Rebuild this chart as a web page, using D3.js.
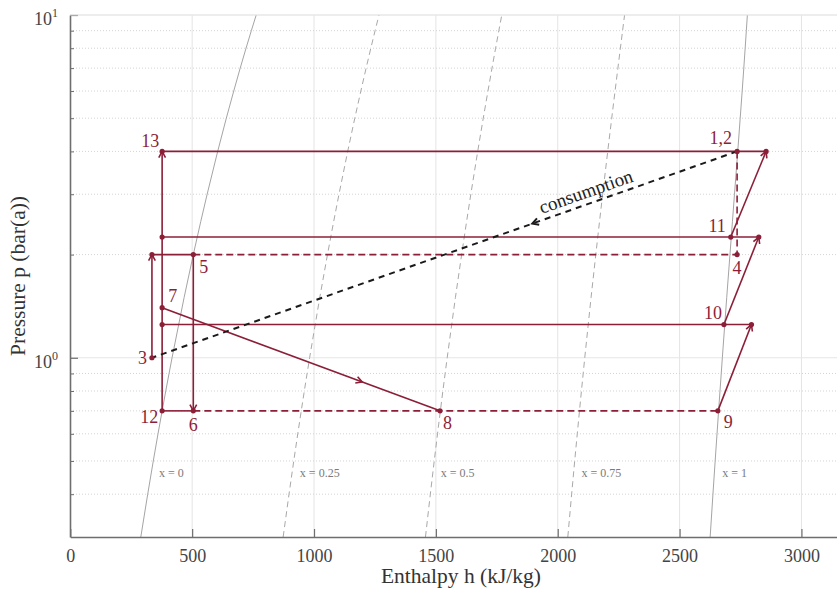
<!DOCTYPE html>
<html>
<head>
<meta charset="utf-8">
<script src="https://cdn.jsdelivr.net/npm/d3@7"></script>
<style>
  body { margin: 0; background: #fff; }
  svg text { font-family: "Liberation Serif", "DejaVu Serif", serif; }
</style>
</head>
<body>
<div id="chart"></div>
<script>
// saturated water / steam table: pressure (bar), liquid and vapour enthalpy (kJ/kg)
const satP  = [0.3, 0.4, 0.5, 0.6, 0.7, 0.8, 0.9, 1.0, 1.5, 2.0, 2.5, 3.0, 4.0, 5.0, 6.0, 7.0, 8.0, 9.0, 10.0];
const satHf = [289.3, 317.6, 340.5, 359.9, 376.8, 391.7, 405.2, 417.5, 467.1, 504.7, 535.4, 561.5, 604.7, 640.2, 670.6, 697.2, 721.1, 742.8, 762.8];
const satHg = [2625.4, 2636.9, 2646.0, 2653.6, 2660.1, 2665.8, 2670.9, 2675.4, 2693.4, 2706.7, 2716.9, 2725.3, 2738.6, 2748.7, 2756.8, 2763.5, 2769.1, 2773.9, 2778.1];

// quality lines
const qualities = [0, 0.25, 0.5, 0.75, 1];
const qualityLabels = ["x = 0", "x = 0.25", "x = 0.5", "x = 0.75", "x = 1"];
const qualityLabelP = 0.46;

// labelled cycle states
const stateNames = ["1,2", "3", "4", "5", "6", "7", "8", "9", "10", "11", "12", "13"];
const stateH = [2736, 335, 2736, 504.7, 504.7, 376.8, 1517, 2657, 2682, 2710, 376.8, 376.8];
const stateP = [4.0, 1.0, 2.0, 2.0, 0.7, 1.4, 0.7, 0.7, 1.25, 2.25, 0.7, 4.0];

// unlabelled corner states
const extraNames = ["b2", "a225", "a125", "s4", "s225", "s125"];
const extraH = [335, 376.8, 376.8, 2855, 2825, 2795];
const extraP = [2.0, 2.25, 1.25, 4.0, 2.25, 1.25];

// ticks
const xTicks = [0, 500, 1000, 1500, 2000, 2500, 3000];
const yMajor = [1, 10];
const yMinor = [0.4, 0.5, 0.6, 0.7, 0.8, 0.9, 2, 3, 4, 5, 6, 7, 8, 9];

const width = 837, height = 590;
const red = "#8c1f38";

const svg = d3.select("#chart").append("svg")
    .attr("width", width)
    .attr("height", height);

const x = d3.scaleLinear().domain([0, 3150]).range([70.3, 838]);
const y = d3.scaleLog().domain([0.3, 10]).range([537, 15]);

svg.append("defs").append("clipPath").attr("id", "plotclip")
    .append("rect").attr("x", 70).attr("y", 15).attr("width", 768).attr("height", 522);

// grid
let grid = svg.append("g").attr("id", "grid");
grid.selectAll(".vgrid").data(xTicks.slice(1)).enter().append("line")
    .attr("x1", d => x(d)).attr("x2", d => x(d))
    .attr("y1", 15).attr("y2", 537)
    .attr("stroke", "#e4e4e4").attr("stroke-width", 1);
grid.selectAll(".hminor").data(yMinor).enter().append("line")
    .attr("x1", 70).attr("x2", 838)
    .attr("y1", d => y(d)).attr("y2", d => y(d))
    .attr("stroke", "#d4d4d4").attr("stroke-width", 1)
    .style("stroke-dasharray", "1, 2");
grid.selectAll(".hmajor").data(yMajor).enter().append("line")
    .attr("x1", 70).attr("x2", 838)
    .attr("y1", d => y(d)).attr("y2", d => y(d))
    .attr("stroke", "#e6e6e6").attr("stroke-width", 1.2);

// saturation / quality curves
let curves = svg.append("g").attr("id", "curves").attr("clip-path", "url(#plotclip)");
let curveLine = d3.line().x(d => x(d[0])).y(d => y(d[1]));
qualities.forEach((q, i) => {
    let pts = satP.map((p, k) => [satHf[k] + q * (satHg[k] - satHf[k]), p]);
    let solid = (q === 0 || q === 1);
    curves.append("path")
        .attr("d", curveLine(pts))
        .attr("fill", "none")
        .attr("stroke", solid ? "#9a9a9a" : "#a8a8a8")
        .attr("stroke-width", solid ? 0.9 : 1)
        .style("stroke-dasharray", solid ? null : "6, 4");
    // label next to the curve
    let k = d3.bisectLeft(satP, qualityLabelP);
    let t = (qualityLabelP - satP[k - 1]) / (satP[k] - satP[k - 1]);
    let hf = satHf[k - 1] + t * (satHf[k] - satHf[k - 1]);
    let hg = satHg[k - 1] + t * (satHg[k] - satHg[k - 1]);
    svg.append("text")
        .attr("x", x(hf + q * (hg - hf)) + 8)
        .attr("y", y(qualityLabelP) + 4)
        .attr("fill", "#7a7a7a")
        .style("font-size", "12px")
        .text(qualityLabels[i]);
});

// axes
let xAxis = d3.axisBottom(x).tickValues(xTicks).tickFormat(d3.format("d"))
    .tickSizeInner(-8).tickSizeOuter(0).tickPadding(12);
let gx = svg.append("g").attr("transform", "translate(0,537)").call(xAxis);
gx.select(".domain").attr("stroke", "#6e6e6e").attr("stroke-width", 1.6);
gx.selectAll(".tick line").attr("stroke", "#6e6e6e").attr("stroke-width", 1.2);
gx.selectAll(".tick text").attr("fill", "#444").style("font-size", "18px")
    .style("font-family", "Liberation Serif, serif");

let gyMinor = svg.append("g").attr("transform", "translate(70,0)")
    .call(d3.axisLeft(y).tickValues(yMinor).tickSizeInner(-4).tickSizeOuter(0).tickFormat(""));
gyMinor.select(".domain").remove();
gyMinor.selectAll(".tick line").attr("stroke", "#6e6e6e");

let gy = svg.append("g").attr("transform", "translate(70,0)")
    .call(d3.axisLeft(y).tickValues(yMajor).tickSizeInner(-8).tickSizeOuter(0).tickFormat(""));
gy.select(".domain").attr("stroke", "#6e6e6e").attr("stroke-width", 1.6);
gy.selectAll(".tick line").attr("stroke", "#6e6e6e").attr("stroke-width", 1.2);

// power-of-ten labels
yMajor.forEach(v => {
    let t = svg.append("text")
        .attr("x", 58).attr("y", y(v) + 10)
        .attr("text-anchor", "end")
        .attr("fill", "#444")
        .style("font-size", "18px");
    t.append("tspan").text("10");
    t.append("tspan").attr("dy", -8).style("font-size", "12px").text(Math.round(Math.log10(v)));
});

// faint top border
svg.append("line").attr("x1", 70).attr("x2", 838).attr("y1", 15).attr("y2", 15)
    .attr("stroke", "#e8e8e8").attr("stroke-width", 1.2);

// axis titles
svg.append("text")
    .attr("x", 461).attr("y", 583)
    .attr("text-anchor", "middle")
    .attr("fill", "#333")
    .style("font-size", "21.5px")
    .text("Enthalpy h (kJ/kg)");
svg.append("text")
    .attr("transform", "translate(25,276) rotate(-90)")
    .attr("text-anchor", "middle")
    .attr("fill", "#333")
    .style("font-size", "21.5px")
    .text("Pressure p (bar(a))");

// state lookup
const pt = {};
stateNames.forEach((n, i) => pt[n] = [stateH[i], stateP[i]]);
extraNames.forEach((n, i) => pt[n] = [extraH[i], extraP[i]]);
const px = n => [x(pt[n][0]), y(pt[n][1])];

let cycle = svg.append("g").attr("id", "cycle");

// open chevron arrow, tip at (tx,ty) pointing along angle a
function chevron(g, tx, ty, a, color, w) {
    let len = 7, spread = 0.5;
    let p1 = [tx - len * Math.cos(a - spread), ty - len * Math.sin(a - spread)];
    let p2 = [tx - len * Math.cos(a + spread), ty - len * Math.sin(a + spread)];
    g.append("path")
        .attr("d", "M" + p1 + "L" + tx + "," + ty + "L" + p2)
        .attr("fill", "none").attr("stroke", color).attr("stroke-width", w)
        .attr("stroke-linejoin", "miter");
}

function segment(from, to, opts) {
    opts = opts || {};
    let a = px(from), b = px(to);
    let color = opts.color || red;
    let w = opts.width || 1.6;
    cycle.append("line")
        .attr("x1", a[0]).attr("y1", a[1]).attr("x2", b[0]).attr("y2", b[1])
        .attr("stroke", color).attr("stroke-width", w)
        .style("stroke-dasharray", opts.dash || null);
    if (opts.arrow !== undefined) {
        let f = opts.arrow;
        let ang = Math.atan2(b[1] - a[1], b[0] - a[0]);
        chevron(cycle, a[0] + f * (b[0] - a[0]), a[1] + f * (b[1] - a[1]), ang, color, w);
    }
}

// horizontal pressure levels
segment("13", "s4");
segment("a225", "s225");
segment("a125", "s125");
segment("12", "6");
segment("6", "9", {dash: "7, 4"});
segment("b2", "5");
segment("5", "4", {dash: "7, 4"});
segment("1,2", "4", {dash: "7, 4"});
// verticals
segment("12", "13", {arrow: 1});
segment("3", "b2", {arrow: 1});
segment("5", "6", {arrow: 1});
// processes
segment("7", "8", {arrow: 0.72});
segment("9", "s125", {arrow: 1});
segment("10", "s225", {arrow: 1});
segment("11", "s4", {arrow: 1});
// consumption
segment("1,2", "3", {color: "#1a1a1a", width: 2, dash: "6, 5", arrow: 0.35});

// dots
let dotNames = stateNames.concat(extraNames);
cycle.selectAll("circle").data(dotNames).enter().append("circle")
    .attr("cx", d => px(d)[0]).attr("cy", d => px(d)[1])
    .attr("r", 2.6).attr("fill", red);

// state labels: [dx, dy, anchor]
const labelPos = {
    "13": [-3, -4, "end"], "1,2": [-5, -7, "end"], "11": [-5, -5, "end"],
    "4": [0, 19, "middle"], "5": [6, 18, "start"], "7": [6, -6, "start"],
    "3": [-5, 6, "end"], "12": [-4, 12, "end"], "6": [0, 20, "middle"],
    "8": [3, 18, "start"], "9": [6, 17, "start"], "10": [-2, -6, "end"]
};
stateNames.forEach(n => {
    let p = px(n), o = labelPos[n];
    cycle.append("text")
        .attr("x", p[0] + o[0]).attr("y", p[1] + o[1])
        .attr("text-anchor", o[2])
        .attr("fill", red)
        .style("font-size", "18px")
        .text(n);
});

// consumption label along the line
let c1 = px("3"), c2 = px("1,2");
let cAng = Math.atan2(c2[1] - c1[1], c2[0] - c1[0]) * 180 / Math.PI;
let cx = 590, cy = c1[1] + (cx - c1[0]) * (c2[1] - c1[1]) / (c2[0] - c1[0]);
svg.append("text")
    .attr("transform", "translate(" + cx + "," + cy + ") rotate(" + cAng + ") translate(0,-6)")
    .attr("text-anchor", "middle")
    .attr("fill", "#222")
    .style("font-size", "19px")
    .text("consumption");
</script>
</body>
</html>
